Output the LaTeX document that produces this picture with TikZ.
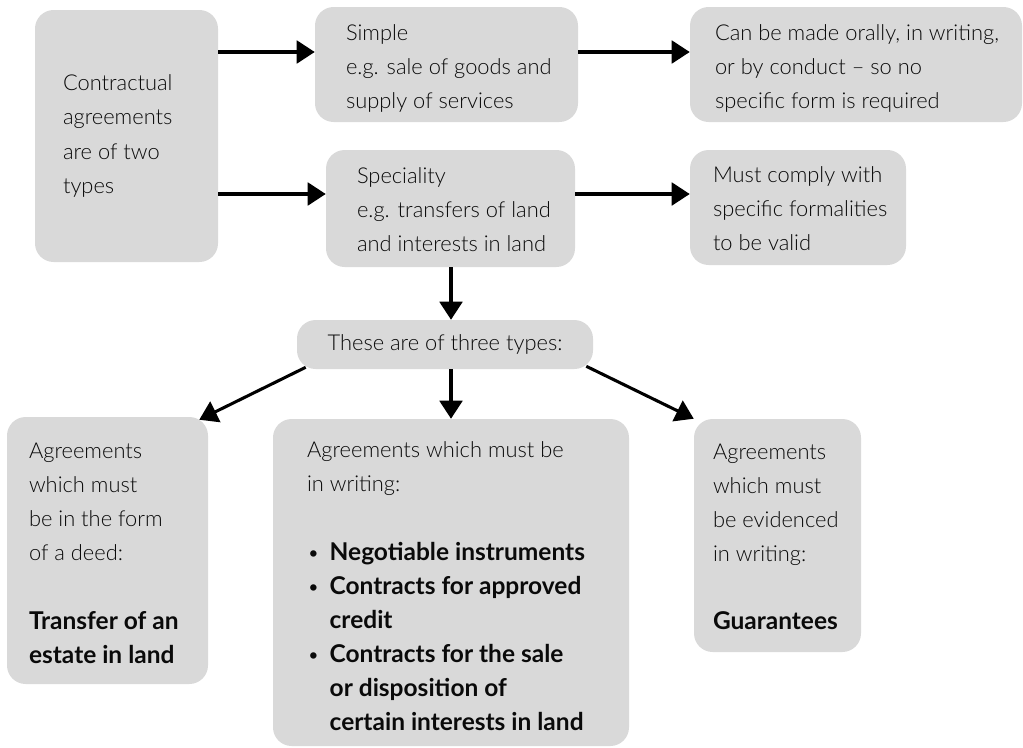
\documentclass[tikz,border=0pt]{standalone}
\usepackage{fontspec}
\setmainfont{Lato}[UprightFont={* Light},BoldFont={* Bold},BoldFeatures={Scale=1.12}]
\usetikzlibrary{arrows.meta,calc}
\definecolor{boxgray}{RGB}{217,217,217}
\definecolor{txt}{RGB}{10,10,10}
\tikzset{
  gbox/.style={draw=none,fill=boxgray,rounded corners=14pt,inner sep=0pt},
  gtext/.style={inner sep=0pt,align=left,anchor=west,text=txt,
    font=\fontsize{16.4pt}{25.6pt}\selectfont},
  arr/.style={line width=2.3pt,-{Triangle[length=13.5pt,width=17pt]}},
}
\newcommand{\bul}{\makebox[17pt][l]{\textbullet}}
\newcommand{\ind}{\hspace*{17pt}}
\begin{document}
\begin{tikzpicture}[x=0.75pt,y=-0.75pt]
\useasboundingbox (0,0) rectangle (1023,747);
% boxes (px: width*0.75pt)
\node[gbox,minimum width=137.25pt,minimum height=189pt] (A) at (126.5,136) {};
\node[gbox,minimum width=197.25pt,minimum height=86.25pt] (Simple) at (446.5,64.5) {};
\node[gbox,minimum width=186.75pt,minimum height=87.75pt] (Spec) at (450.5,208.5) {};
\node[gbox,minimum width=249pt,minimum height=86.25pt] (Can) at (856,64.5) {};
\node[gbox,minimum width=162pt,minimum height=86.25pt] (Must) at (798,207.5) {};
\node[gbox,minimum width=222pt,minimum height=36.75pt] (These) at (445,344.5) {};
\node[gbox,minimum width=150.75pt,minimum height=200.25pt] (BL) at (107.5,550.5) {};
\node[gbox,minimum width=267pt,minimum height=245.25pt] (BM) at (451,582.5) {};
\node[gbox,minimum width=125.25pt,minimum height=174.75pt] (BR) at (777.5,535.5) {};
% texts
\node[gtext] (At) at ([xshift=21pt]A.west) {Contractual\\agreements\\are of two\\types};
\node[gtext] (Simplet) at ([xshift=23.25pt,yshift=-3pt]Simple.west) {Simple\\e.g. sale of goods and\\supply of services};
\node[gtext] (Spect) at ([xshift=23.25pt,yshift=-1pt]Spec.west) {Speciality\\e.g. transfers of land\\and interests in land};
\node[gtext] (Cant) at ([xshift=18.75pt,yshift=-3pt]Can.west) {Can be made orally, in writing,\\or by conduct -- so no\\specific form is required};
\node[gtext] (Mustt) at ([xshift=17.25pt,yshift=-1pt]Must.west) {Must comply with\\specific formalities\\to be valid};
\node[gtext,anchor=center,align=center] (Theset) at (These.center) {These are of three types:};
\node[gtext] (BLt) at ([xshift=16.5pt,yshift=-2pt]BL.west) {Agreements\\which must\\be in the form\\of a deed:\\[25.6pt]\textbf{Transfer of an}\\\textbf{estate in land}};
\node[gtext] (BMt) at ([xshift=25.5pt,yshift=-3pt]BM.west) {Agreements which must be\\in writing:\\[25.6pt]\bul\textbf{Negotiable instruments}\\\bul\textbf{Contracts for approved}\\\ind\textbf{credit}\\\bul\textbf{Contracts for the sale}\\\ind\textbf{or disposition of}\\\ind\textbf{certain interests in land}};
\node[gtext] (BRt) at ([xshift=14.25pt,yshift=-1pt]BR.west) {Agreements\\which must\\be evidenced\\in writing:\\[25.6pt]\textbf{Guarantees}};
% arrows
\draw[arr] (A.east |- 0,52) -- (Simple.west |- 0,52);
\draw[arr] (A.east |- 0,194) -- (Spec.west |- 0,194);
\draw[arr] (Simple.east |- 0,52) -- (Can.west |- 0,52);
\draw[arr] (Spec.east |- 0,194) -- (Must.west |- 0,194);
\draw[arr] (Spec.south -| 451,0) -- (These.north -| 451,0);
\draw[arr] ([shift={(9,-2)}]These.south west) -- ([shift={(-9,3)}]BL.north east);
\draw[arr] (These.south -| 451,0) -- (BM.north -| 451,0);
\draw[arr] ([shift={(-7,-3)}]These.south east) -- (BR.north west);
\end{tikzpicture}
\end{document}
